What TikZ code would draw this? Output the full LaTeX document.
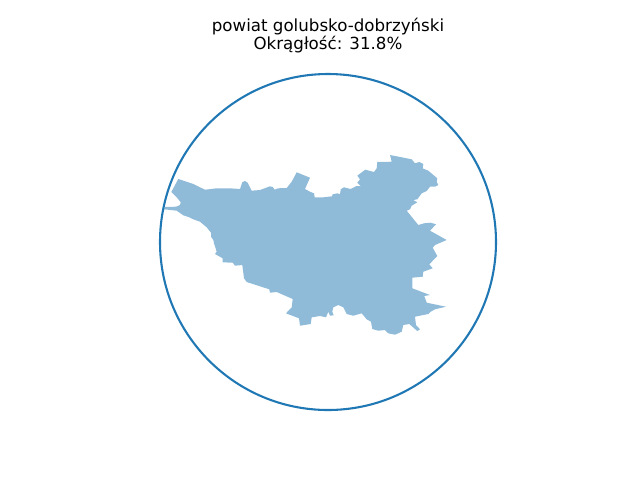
\documentclass[tikz,border=0pt]{standalone}
\usepackage{fontspec}
\setmainfont{DejaVu Sans}
\definecolor{mplblue}{HTML}{1F77B4}
\tikzset{
  region/.style={fill=mplblue,fill opacity=0.5,draw=none},
  ring/.style={draw=mplblue,line width=1.56pt},
  titletext/.style={font=\fontsize{12.5pt}{13.1pt}\selectfont,align=center,inner sep=0pt,text=black}
}
\begin{document}
\begin{tikzpicture}[x=0.75pt,y=-0.75pt]
\useasboundingbox (0,0) rectangle (640,480);
\fill[region] (164,209.3) -- (165,207) -- (176,206.7) -- (180,205) -- (180.7,202.3) -- (176.7,197.3) -- (171.3,192) -- (178.3,179) -- (193.3,184) -- (205,189.7) -- (216.7,188.3) -- (230,188.3) -- (240,189) -- (242.3,182.3) -- (245,181) -- (247.7,182.7) -- (251.7,190.7) -- (260,190) -- (270,186.3) -- (272.7,187) -- (274.7,189.7) -- (278,188.3) -- (286.7,188) -- (291.7,181.7) -- (296.7,172.3) -- (310,177.7) -- (305,189) -- (310,191.7) -- (314,193.3) -- (314.7,197.3) -- (323.3,197.3) -- (332,196.3) -- (332.7,194.3) -- (337.7,193.3) -- (340,194.3) -- (340.7,189.3) -- (344,187.3) -- (350.7,189) -- (356.7,186) -- (361,186.3) -- (357.3,182.7) -- (360,179.3) -- (357.3,175.7) -- (365.3,169.7) -- (374,172) -- (376.7,168.3) -- (377.3,162) -- (391.7,161.7) -- (390,155) -- (411.7,159.3) -- (415,163.3) -- (419.3,162) -- (423.3,164) -- (422.7,168.3) -- (428.3,170.7) -- (437.3,178.3) -- (436.7,181.7) -- (438.3,185) -- (435,186.7) -- (430,186.7) -- (426.7,191) -- (421.7,193.3) -- (417.3,199.3) -- (413.3,200) -- (417.3,202.3) -- (411.7,205.7) -- (410,209.3) -- (406.7,210.7) -- (418.3,225) -- (424,223.3) -- (430.7,222.7) -- (436,224.3) -- (430,230.7) -- (446.7,240) -- (435,245) -- (432.7,247.7) -- (437.3,256) -- (429.3,264.3) -- (432.7,268.3) -- (423.3,271.7) -- (422.7,276.7) -- (412.3,277.7) -- (412.3,288.3) -- (430,295) -- (424.3,296) -- (426.7,302.7) -- (446,306.7) -- (435,309.3) -- (430.7,311.7) -- (428.3,314) -- (415,316.7) -- (416,325) -- (420,329.3) -- (417.3,331) -- (409.3,324) -- (403.3,325) -- (401.7,331.7) -- (395,334.7) -- (388.3,333.3) -- (385,330) -- (378.3,330.7) -- (372.3,329) -- (371,321.7) -- (366.7,319.3) -- (361.7,313.3) -- (353.3,315.7) -- (346.7,314) -- (343.3,307.3) -- (338.3,305) -- (333.3,307.3) -- (332.3,311.7) -- (333.7,315.3) -- (330,315.7) -- (328.3,311.7) -- (326,317.3) -- (320,316) -- (311.7,317.3) -- (310.7,324) -- (300,325.7) -- (299,318.3) -- (286,313.3) -- (291.7,307.3) -- (292.7,299) -- (276.7,292) -- (270,292.7) -- (269.3,289.3) -- (246.7,282) -- (244,278.3) -- (242.3,265) -- (235,265.7) -- (232.7,262.7) -- (222.7,262.3) -- (222.7,258.3) -- (215,254) -- (216.7,251.7) -- (214,243.3) -- (213.3,240) -- (211,236.7) -- (211,232.7) -- (206.7,227.3) -- (200,221.7) -- (193.3,219.3) -- (189.3,217.3) -- (183.3,215.3) -- (176.7,210.7) -- cycle;
\draw[ring] (328,242) circle [radius=168];
\node[titletext] (title) at (328,35.5) {powiat golubsko-dobrzyński\\Okrągłość: 31.8\%};
\end{tikzpicture}
\end{document}
